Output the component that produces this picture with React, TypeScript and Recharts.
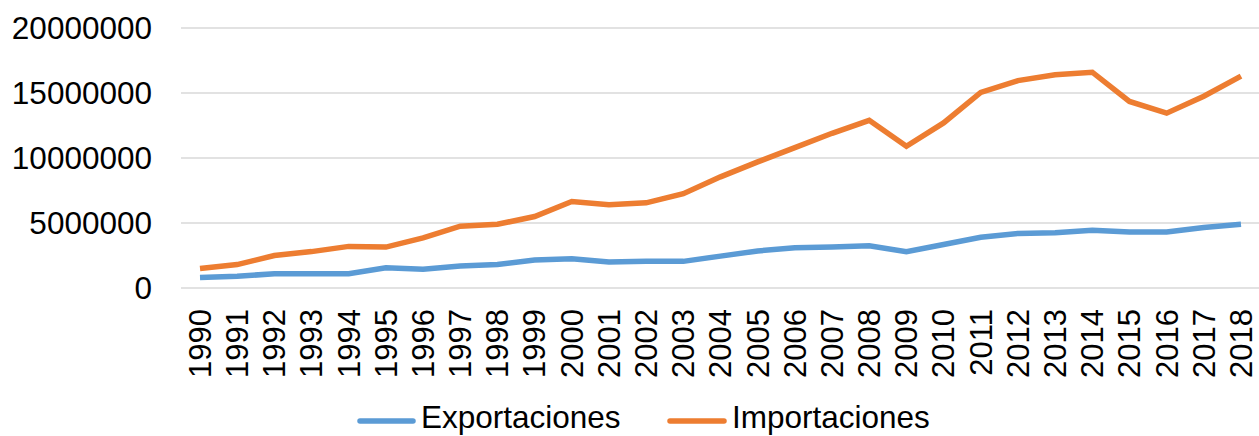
import { CartesianGrid, Legend, Line, LineChart, XAxis, YAxis } from "recharts";

const years = [
  "1990", "1991", "1992", "1993", "1994", "1995", "1996", "1997", "1998", "1999",
  "2000", "2001", "2002", "2003", "2004", "2005", "2006", "2007", "2008", "2009",
  "2010", "2011", "2012", "2013", "2014", "2015", "2016", "2017", "2018",
];

const exportaciones = [
  800000, 900000, 1100000, 1100000, 1100000, 1550000, 1450000, 1700000, 1800000, 2150000,
  2250000, 2000000, 2050000, 2050000, 2450000, 2850000, 3100000, 3150000, 3250000, 2800000,
  3350000, 3900000, 4200000, 4250000, 4450000, 4300000, 4300000, 4650000, 4900000,
];

const importaciones = [
  1500000, 1800000, 2500000, 2800000, 3200000, 3150000, 3850000, 4750000, 4900000, 5500000,
  6650000, 6400000, 6550000, 7250000, 8550000, 9700000, 10800000, 11900000, 12900000, 10900000,
  12700000, 15050000, 15950000, 16400000, 16600000, 14350000, 13450000, 14750000, 16300000,
];

const yTicks = [0, 5000000, 10000000, 15000000, 20000000];

const data = years.map((year, i) => ({
  year,
  exportaciones: exportaciones[i],
  importaciones: importaciones[i],
}));

const FONT = "'Liberation Sans', Arial, sans-serif";
const BLUE = "#5B9BD5";
const ORANGE = "#ED7D31";

function YearTick({ x, y, payload }: any) {
  return (
    <g transform={`translate(${x},${y})`}>
      <text
        transform="rotate(-90)"
        textAnchor="end"
        dy="0.35em"
        fontSize={31}
        fontFamily={FONT}
        fill="#000"
      >
        {payload.value}
      </text>
    </g>
  );
}

function LegendBox() {
  return (
    <svg width={1259} height={53} style={{ display: "block" }}>
      <line x1={360} y1={38} x2={413} y2={38} stroke={BLUE} strokeWidth={5.5} strokeLinecap="round" />
      <text x={421} y={45} fontSize={31.5} fontFamily={FONT} fill="#000">
        Exportaciones
      </text>
      <line x1={670} y1={38} x2={724} y2={38} stroke={ORANGE} strokeWidth={5.5} strokeLinecap="round" />
      <text x={732} y={45} fontSize={31.5} fontFamily={FONT} fill="#000">
        Importaciones
      </text>
    </svg>
  );
}

export default function App() {
  return (
    <div style={{ position: "absolute", left: 0, top: 0, background: "#fff" }}>
      <LineChart
        width={1259}
        height={436}
        data={data}
        margin={{ top: 28, right: 0, left: 0, bottom: 0 }}
      >
        <CartesianGrid vertical={false} stroke="#D9D9D9" strokeWidth={1.5} />
        <XAxis
          dataKey="year"
          axisLine={false}
          tickLine={false}
          interval={0}
          height={95}
          tickSize={0}
          tickMargin={21}
          padding={{ left: 19, right: 18 }}
          tick={<YearTick />}
        />
        <YAxis
          width={181}
          domain={[0, 20000000]}
          ticks={yTicks}
          axisLine={false}
          tickLine={false}
          tickSize={0}
          tickMargin={29}
          tick={{ fontSize: 31.5, fontFamily: FONT, fill: "#000" }}
        />
        <Legend verticalAlign="bottom" content={<LegendBox />} wrapperStyle={{ left: 0, width: 1259 }} />
        <Line
          type="linear"
          dataKey="exportaciones"
          stroke={BLUE}
          strokeWidth={5.5}
          dot={false}
          isAnimationActive={false}
        />
        <Line
          type="linear"
          dataKey="importaciones"
          stroke={ORANGE}
          strokeWidth={5.5}
          dot={false}
          isAnimationActive={false}
        />
      </LineChart>
    </div>
  );
}
